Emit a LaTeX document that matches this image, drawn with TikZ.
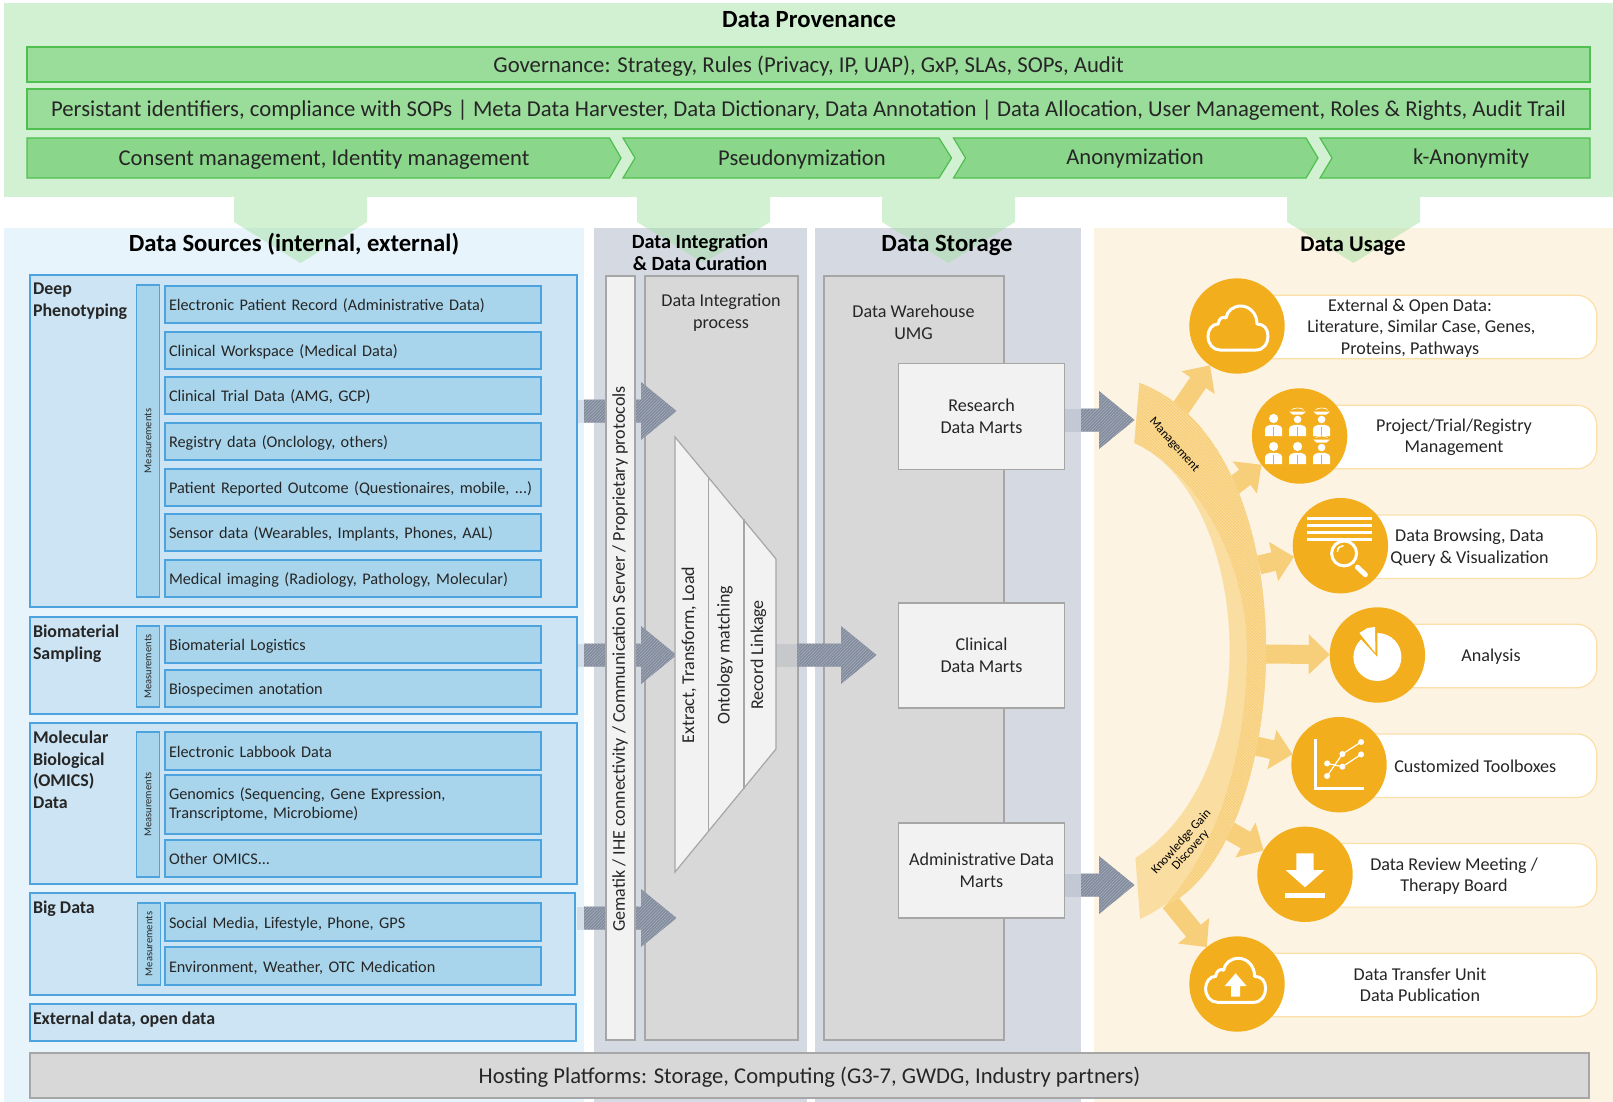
\documentclass[tikz,border=0pt]{standalone}
\usepackage{fontspec}
\setmainfont{Carlito}
\usetikzlibrary{arrows.meta, patterns.meta}

\definecolor{provbg}{HTML}{D2F0D2}
\definecolor{provtab}{HTML}{A5E1A5}
\definecolor{provband}{HTML}{9ADC9A}
\definecolor{provstep}{HTML}{8AD68A}
\definecolor{provline}{HTML}{4FC04F}
\definecolor{srcbg}{HTML}{E8F4FB}
\definecolor{srcgroup}{HTML}{CCE4F3}
\definecolor{srcitem}{HTML}{A8D5EC}
\definecolor{srcline}{HTML}{4CA3DD}
\definecolor{midbg}{HTML}{D5D9E2}
\definecolor{midbox}{HTML}{D8D8D8}
\definecolor{midlight}{HTML}{F2F2F2}
\definecolor{midline}{HTML}{A6A6A6}
\definecolor{hatchbase}{HTML}{7F899C}
\definecolor{hatchline}{HTML}{A3A9B5}
\definecolor{usebg}{HTML}{FDF3E2}
\definecolor{useorange}{HTML}{F3AE1D}
\definecolor{usearrow}{HTML}{F7CF7A}
\definecolor{usearc}{HTML}{FADDA0}
\definecolor{usepill}{HTML}{FBE0A9}
\definecolor{txt}{HTML}{262626}

\tikzset{
  every node/.style={inner sep=0pt, outer sep=0pt, text=txt},
  title/.style={font=\bfseries\fontsize{24.7}{29}\selectfont, text=black, align=center},
  subtitle/.style={font=\bfseries\fontsize{20.2}{22}\selectfont, text=black, align=center},
  bandbox/.style={draw=provline, fill=provband, line width=1.2pt, font=\fontsize{22.7}{27}\selectfont, text height=20pt, text depth=4pt},
  stepbox/.style={draw=provline, fill=provstep, line width=1.2pt},
  steptext/.style={font=\fontsize{22.6}{27}\selectfont},
  groupbox/.style={draw=srcline, fill=srcgroup, line width=1.2pt, anchor=north west},
  grouptext/.style={font=\bfseries\fontsize{17.9}{21.6}\selectfont, anchor=north west, align=left},
  measbox/.style={draw=srcline, fill=srcitem, line width=1.2pt, rotate=90, font=\fontsize{10.5}{11}\selectfont},
  itembox/.style={draw=srcline, fill=srcitem, line width=1.2pt, anchor=north west, font=\fontsize{16.25}{19.5}\selectfont, align=left, text width=368pt, inner xsep=4pt},
  graybox/.style={draw=midline, fill=midbox, line width=1.2pt},
  lightbox/.style={draw=midline, fill=midlight, line width=1.2pt},
  midtext/.style={font=\fontsize{18.1}{21.5}\selectfont, align=center},
  sidetext/.style={font=\fontsize{18}{21}\selectfont, rotate=90},
  hatched/.style={fill=hatchbase, postaction={pattern={Lines[angle=45,distance=2.2pt,line width=.8pt]}, pattern color=hatchline}},
  archatch/.style={fill=usearrow, postaction={pattern={Lines[angle=-45,distance=2.2pt,line width=.7pt]}, pattern color=usearc}},
  pillbox/.style={draw=usepill, fill=white, line width=1.2pt, rounded corners=20pt, anchor=west, minimum height=63.6pt},
  usecircle/.style={circle, fill=useorange, minimum size=95.4pt},
  usetext/.style={font=\fontsize{18.1}{21.5}\selectfont, align=center},
  usearrowline/.style={draw=usearrow, line width=19pt, -{Triangle[length=21pt,width=39pt]}},
  iconline/.style={draw=white, line width=3pt},
}

\newcommand{\usagecloud}{
  \draw[iconline, line join=round] (-17,24) -- (19,24) .. controls (27,24) and (31,17) .. (31,10)
    .. controls (31,3) and (27,-2) .. (20,-2) .. controls (20,-13) and (12,-20) .. (4,-20)
    .. controls (-4,-20) and (-10,-15) .. (-11,-8) .. controls (-14,-10) and (-18,-8) .. (-19,-2)
    .. controls (-25,-2) and (-29,4) .. (-29,10) .. controls (-29,18) and (-24,24) .. (-17,24) -- cycle;
}

\begin{document}
\begin{tikzpicture}[x=1pt, y=-1pt]
    \useasboundingbox (0,0) rectangle (1613,1102);

    % Panels
    \fill[srcbg] (4,228) rectangle (584,1102);
    \fill[midbg] (594,228) rectangle (807,1102);
    \fill[midbg] (815,228) rectangle (1081,1102);
    \fill[usebg] (1094,228) rectangle (1613,1102);

    % Provenance
    \fill[provbg] (4,3) rectangle (1613,197);
    \foreach \x in {300.5,703.5,948.5,1353.5} {
      \fill[provtab, fill opacity=.5] (\x-66.5,197) -- (\x+66.5,197) -- (\x+66.5,222) -- (\x,263) -- (\x-66.5,222) -- cycle;
    }
    \node[title] (provtitle) at (809,20) {Data Provenance};
    \node[bandbox, minimum width=1563pt, minimum height=35pt] (governance) at (808.5,64.5) {Governance: Strategy, Rules (Privacy, IP, UAP), GxP, SLAs, SOPs, Audit};
    \node[bandbox, minimum width=1563pt, minimum height=40pt] (identifiers) at (808.5,109) {Persistant identifiers, compliance with SOPs | Meta Data Harvester, Data Dictionary, Data Annotation | Data Allocation, User Management, Roles \& Rights, Audit Trail};
    \draw[stepbox] (27,138) -- (609.5,138) -- (621,158) -- (609.5,178) -- (27,178) -- cycle;
    \draw[stepbox] (623,138) -- (939,138) -- (951.5,158) -- (939,178) -- (623,178) -- (635,158) -- cycle;
    \draw[stepbox] (953.5,138) -- (1306,138) -- (1318,158) -- (1306,178) -- (953.5,178) -- (965.5,158) -- cycle;
    \draw[stepbox] (1320,138) -- (1590,138) -- (1590,178) -- (1320,178) -- (1332,158) -- cycle;
    \node[steptext] (consent) at (324,159.5) {Consent management, Identity management};
    \node[steptext] (pseudo) at (802,159) {Pseudonymization};
    \node[steptext] (anon) at (1135,158.5) {Anonymization};
    \node[steptext] (kanon) at (1471,158.5) {k-Anonymity};

    % Titles
    \node[title] (srctitle) at (294,244) {Data Sources (internal, external)};
    \node[subtitle] (inttitle) at (700,252.5) {Data Integration\\\& Data Curation};
    \node[title] (stotitle) at (947,245) {Data Storage};
    \node[title, font=\bfseries\fontsize{22.5}{27}\selectfont] (usetitle) at (1353,246) {Data Usage};

    % Source groups
    \foreach \name/\x/\y/\w/\h/\txt in {deep/30/275/547/332/{Deep\\Phenotyping}, bio/30/617/547/97/{Biomaterial\\Sampling}, omics/30/723/547/161/{Molecular\\Biological\\(OMICS)\\Data}, big/30/893/545/102/{Big Data}, ext/30/1004/546/37/{External data, open data}} {
      \node[groupbox, minimum width=\w pt, minimum height=\h pt] (\name) at (\x,\y) {};
      \node[grouptext] (\name txt) at (\x+3,\y+8) {\txt};
    }

    % Measurement strips
    \foreach \x/\ya/\yb in {148/285/597, 148/626/707, 148/732/877, 149/903/985} {
      \node[measbox, minimum width=\yb pt-\ya pt, minimum height=22.5pt] (meas\ya) at (\x,{(\ya+\yb)/2}) {Measurements};
    }

    % Source items
    \foreach \y/\h/\txt in {286/37/{Electronic Patient Record (Administrative Data)}, 332/37/{Clinical Workspace (Medical Data)}, 377/37/{Clinical Trial Data (AMG, GCP)}, 423/37/{Registry data (Onclology, others)}, 469/37/{Patient Reported Outcome (Questionaires, mobile, ...)}, 514/37/{Sensor data (Wearables, Implants, Phones, AAL)}, 560/37/{Medical imaging (Radiology, Pathology, Molecular)}, 626/37/{Biomaterial Logistics}, 670/37/{Biospecimen anotation}, 732/38/{Electronic Labbook Data}, 840/37/{Other OMICS...}, 903/38/{Social Media, Lifestyle, Phone, GPS}, 947/38/{Environment, Weather, OTC Medication}} {
      \node[itembox, minimum height=\h pt, text height=16pt, text depth=4pt] (item\y) at (165,\y) {\txt};
    }
    \node[itembox, minimum height=59pt] (item775) at (165,775) {Genomics (Sequencing, Gene Expression,\\Transcriptome, Microbiome)};

    % Integration and storage boxes
    \node[graybox, anchor=north west, minimum width=153pt, minimum height=764pt] (process) at (645,276) {};
    \node[midtext] (processtxt) at (721,312.5) {Data Integration\\process};
    \node[graybox, anchor=north west, minimum width=180pt, minimum height=764pt] (warehouse) at (824,276) {};
    \node[midtext] (warehousetxt) at (913.5,322.5) {Data Warehouse\\UMG};

    % Hatched arrows
    \foreach \ax/\bx/\hx/\y in {577/584/641/411, 577/584/641/655, 577/584/641/918, 776/797/841/655, 1065/1081/1099/420, 1065/1081/1099/885} {
      \fill[hatchbase, fill opacity=.2] (\ax,\y-11.5) rectangle (\bx,\y+11.5);
      \fill[hatched] (\bx,\y-11.5) -- (\hx,\y-11.5) -- (\hx,\y-29) -- (\hx+35.5,\y) -- (\hx,\y+29) -- (\hx,\y+11.5) -- (\bx,\y+11.5) -- cycle;
    }

    \node[lightbox, anchor=north west, minimum width=29pt, minimum height=764pt] (gematik) at (606,276) {};
    \node[sidetext] (gematiktxt) at (620,659) {Gematik / IHE connectivity / Communication Server / Proprietary protocols};

    % ETL funnel
    \draw[lightbox] (675,437) -- (776,559) -- (776,749) -- (675,872) -- cycle;
    \draw[midline, line width=1.2pt] (708.5,478) -- (708.5,831);
    \draw[midline, line width=1.2pt] (744,519) -- (744,789);
    \node[sidetext] (etl) at (689,655) {Extract, Transform, Load};
    \node[sidetext] (ontology) at (725,655) {Ontology matching};
    \node[sidetext] (linkage) at (758.5,655) {Record Linkage};

    % Data marts
    \foreach \name/\y/\h/\txt in {research/416.5/105.5/{Research\\Data Marts}, clinical/655.5/105/{Clinical\\Data Marts}, admin/870.5/95/{Administrative Data\\Marts}} {
      \node[lightbox, midtext, minimum width=166pt, minimum height=\h pt] (\name) at (981.5,\y) {\txt};
    }

    % Usage rows
    \foreach \name/\cx/\cy/\tx/\ty/\txt in {open/1237/326/1410/328/{External \& Open Data:\\\hspace*{22.7pt}Literature, Similar Case, Genes,\\Proteins, Pathways}, project/1299.6/436/1454/437.5/{Project/Trial/Registry\\Management}, browse/1340.4/545.7/1469.5/547.5/{Data Browsing, Data\\Query \& Visualization}, analysis/1377.4/655/1491/656.5/{Analysis}, toolbox/1339/764.7/1475.3/766.5/{Customized Toolboxes}, review/1305/874.3/1454/876/{Data Review Meeting /\\Therapy Board}, transfer/1237/984/1420/985/{Data Transfer Unit\\Data Publication}} {
      \node[pillbox, minimum width=1596.7pt-\cx pt] (\name pill) at (\cx,\cy+1) {};
      \node[usecircle] (\name) at (\cx,\cy) {};
      \node[usetext] (\name txt) at (\tx,\ty) {\txt};
    }

    % Arrows out of the arc
    \coordinate (outa) at (1180,409);
    \coordinate (outb) at (1232,487);
    \coordinate (outc) at (1259,565);
    \coordinate (outd) at (1262,654);
    \coordinate (oute) at (1256,746);
    \coordinate (outf) at (1228,830);
    \coordinate (outg) at (1170,902);
    \draw[usearrowline] (outa) -- (open);
    \draw[usearrowline] (outb) -- (project);
    \draw[usearrowline] (outc) -- (browse);
    \draw[usearrowline] (outd) -- (analysis);
    \draw[usearrowline] (oute) -- (toolbox);
    \draw[usearrowline] (outf) -- (review);
    \draw[usearrowline] (outg) -- (transfer);

    % Arc
    \fill[usearc] (1139.5,383) .. controls (1225,415) and (1266,530) .. (1266,650) .. controls (1266,770) and (1225,880) .. (1140,919) -- (1135.4,858) .. controls (1195,820) and (1229.6,740) .. (1229.6,650) .. controls (1229.6,560) and (1195,470) .. (1134.4,443) -- cycle;
    \fill[archatch] (1139.5,383) .. controls (1225,415) and (1266,530) .. (1266,650) .. controls (1266,770) and (1225,880) .. (1165,906) .. controls (1215,850) and (1247,760) .. (1247,650) .. controls (1247,560) and (1195,470) .. (1134.4,443) -- cycle;
    \node[font=\fontsize{12.5}{13}\selectfont, text=black, rotate=-48] (management) at (1174,445) {Management};
    \node[font=\fontsize{12.5}{12.5}\selectfont, text=black, rotate=48, align=center] (knowledge) at (1186,846) {Knowledge Gain\\Discovery};

    % Icons
    \begin{scope}[shift={(open.center)}]
      \usagecloud
    \end{scope}
    \begin{scope}[shift={(project.center)}]
      \foreach \px/\py/\grad in {-26/-17/0, -2/-17/1, 22/-17/1, -26/11/0, -2/11/0, 22/11/1} {
        \ifnum\grad=1
          \fill[white] (\px,\py+.5) circle (3.8);
          \fill[white] (\px-8.5,\py-7.5) -- (\px+8.5,\py-7.5) -- (\px+5,\py-4.5) -- (\px-5,\py-4.5) -- cycle;
          \draw[white, line width=.7pt] (\px-6,\py-9.5) .. controls (\px-2,\py-11.5) and (\px+2,\py-11.5) .. (\px+6,\py-9.5);
        \else
          \fill[white] (\px,\py-.5) circle (4.6);
        \fi
        \fill[white] (\px-8.5,\py+17) -- (\px-8.5,\py+9.5) .. controls (\px-8.5,\py+7.5) and (\px-6,\py+6.5) .. (\px-3,\py+5.8) -- (\px+3,\py+5.8) .. controls (\px+6,\py+6.5) and (\px+8.5,\py+7.5) .. (\px+8.5,\py+9.5) -- (\px+8.5,\py+17) -- cycle;
        \draw[useorange, line width=.8pt] (\px,\py+8) -- (\px,\py+17);
      }
    \end{scope}
    \begin{scope}[shift={(browse.center)}]
      \foreach \ly in {-27.3,-20,-13.3,-6.3} {
        \fill[white] (-33.6,\ly-1.5) rectangle (32,\ly+1.5);
      }
      \draw[iconline, fill=useorange] (3.7,7.7) circle (12.5);
      \draw[white, line width=1.5pt] (-3,6) .. controls (-3,2) and (0,0) .. (3,0);
      \draw[white, line width=5pt, line cap=round] (17,21.5) -- (25,29);
    \end{scope}
    \begin{scope}[shift={(analysis.center)}]
      \fill[white] (0,2) -- (0,-22) arc (-90:227:24) -- cycle;
      \fill[white] (-2,-2) -- (-18,-22) -- (-10,-27) -- (-2.4,-28) -- cycle;
    \end{scope}
    \begin{scope}[shift={(toolbox.center)}]
      \draw[iconline] (-23.8,-25.3) -- (-23.8,23.7) -- (24.8,23.7);
      \draw[white, line width=1.2pt] (-11.9,11.3) -- (3.4,-10.7) -- (22.1,-22.7);
      \draw[white, line width=1.2pt] (-11.9,-1.3) -- (3.4,2) -- (22.1,-10.3);
      \foreach \dx/\dy in {-11.9/11.3, 3.4/2, -11.9/-1.3, 3.4/-10.7, 22.1/-22.7, 22.1/-10.3} {
        \fill[white] (\dx,\dy) circle (3);
      }
    \end{scope}
    \begin{scope}[shift={(review.center)}]
      \fill[white] (-8.7,-21) -- (8.7,-21) -- (8.7,-4.3) -- (19.5,-4.3) -- (0,13) -- (-19.5,-4.3) -- (-8.7,-4.3) -- cycle;
      \fill[white] (-20,18.3) rectangle (20,23.7);
    \end{scope}
    \begin{scope}[shift={(transfer.center)}]
      \begin{scope}[shift={(-2.4,-5.7)}]
        \usagecloud
      \end{scope}
      \fill[white] (-1.4,-10.7) -- (9.6,2) -- (3,2) -- (3,12.7) -- (-5.8,12.7) -- (-5.8,2) -- (-12.4,2) -- cycle;
    \end{scope}

    % Hosting
    \node[graybox, font=\fontsize{22.6}{27}\selectfont, minimum width=1559pt, minimum height=45pt, text height=20pt, text depth=4pt] (hosting) at (809.5,1075.5) {Hosting Platforms: Storage, Computing (G3-7, GWDG, Industry partners)};
  \end{tikzpicture}
\end{document}
